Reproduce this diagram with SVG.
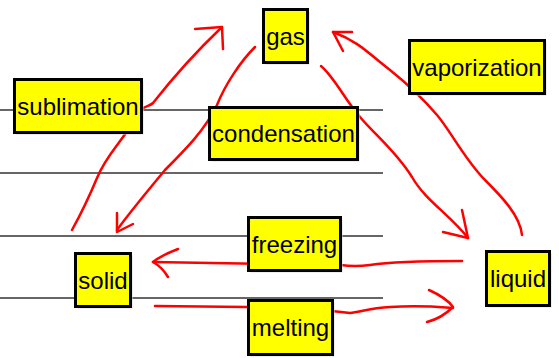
<svg xmlns="http://www.w3.org/2000/svg" width="559" height="358" viewBox="0 0 559 358">
<style>
.bg{fill:#ffffff}
.rule{stroke:#333333;stroke-width:1.5;fill:none}
.conn{stroke:#ff0000;stroke-width:2.5;fill:none;stroke-linecap:round;stroke-linejoin:round}
.shadow{fill:#dddddd}
.box{fill:#ffff00;stroke:#000000;stroke-width:3}
.lbl{font-family:"Liberation Sans",Arial,sans-serif;font-size:24px;fill:#000000;text-anchor:middle}
</style>
<rect class="bg" x="0" y="0" width="559" height="358"/>
<g id="rules">
<line class="rule" x1="0" y1="110" x2="383" y2="110"/>
<line class="rule" x1="0" y1="173" x2="383" y2="173"/>
<line class="rule" x1="0" y1="236" x2="383" y2="236"/>
<line class="rule" x1="0" y1="298" x2="383" y2="298"/>
</g>
<g id="connectors">
<path class="conn" d="M72,230 C82,212 92,190 97,178 C105,158 118,145 128,130 L140,110 C145,106 150,106 153,103 C175,75 200,48 222,27"/>
<path class="conn" d="M195,29 L222,27 L223,49"/>
<path class="conn" d="M255,47 C240,62 225,85 217,105 C205,130 185,150 165,170 C150,188 130,212 117,230"/>
<path class="conn" d="M133,224 L117,232 L117,213"/>
<path class="conn" d="M522,235 C520,215 500,195 485,180 C465,160 450,130 437,115 C420,95 405,82 390,70 C370,55 360,42 333,32"/>
<path class="conn" d="M352,32 L333,32 L343,51"/>
<path class="conn" d="M321,66 C335,78 345,100 360,117 C375,135 395,150 412,177 C425,200 450,215 468,238"/>
<path class="conn" d="M443,232 L468,238 L462,210"/>
<path class="conn" d="M462,261 C420,261 390,262 370,265 C355,267 348,266 340,265 L153,262"/>
<path class="conn" d="M178,249 C165,254 158,258 153,262 C160,266 165,272 168,277"/>
<path class="conn" d="M155,306 L247,307 C300,308 335,311 350,313 C360,312 370,308 390,307 C420,305 440,307 453,308"/>
<path class="conn" d="M429,290 C440,295 448,300 453,307 C445,315 435,320 427,322"/>
</g>
<g id="gas">
<rect class="shadow" x="265.5" y="11.5" width="44" height="53"/>
<rect class="box" x="263.5" y="9.5" width="44" height="53"/>
<text class="lbl" x="285.5" y="44.5">gas</text>
</g>
<g id="sublimation">
<rect class="shadow" x="16.5" y="81.5" width="127" height="53"/>
<rect class="box" x="14.5" y="79.5" width="127" height="53"/>
<text class="lbl" x="78" y="114.5">sublimation</text>
</g>
<g id="condensation">
<rect class="shadow" x="211.5" y="109.5" width="148" height="52"/>
<rect class="box" x="209.5" y="107.5" width="148" height="52"/>
<text class="lbl" x="283.5" y="142">condensation</text>
</g>
<g id="vaporization">
<rect class="shadow" x="411.5" y="42.5" width="135" height="53"/>
<rect class="box" x="409.5" y="40.5" width="135" height="53"/>
<text class="lbl" x="477" y="75.5">vaporization</text>
</g>
<g id="solid">
<rect class="shadow" x="77.5" y="255.5" width="55" height="53"/>
<rect class="box" x="75.5" y="253.5" width="55" height="53"/>
<text class="lbl" x="103" y="288.5">solid</text>
</g>
<g id="freezing">
<rect class="shadow" x="250.5" y="219.5" width="92" height="53"/>
<rect class="box" x="248.5" y="217.5" width="92" height="53"/>
<text class="lbl" x="294.5" y="252.5">freezing</text>
</g>
<g id="melting">
<rect class="shadow" x="250.5" y="302.5" width="84" height="54"/>
<rect class="box" x="248.5" y="300.5" width="84" height="54"/>
<text class="lbl" x="290.5" y="336">melting</text>
</g>
<g id="liquid">
<rect class="shadow" x="488.5" y="253.5" width="63" height="54"/>
<rect class="box" x="486.5" y="251.5" width="63" height="54"/>
<text class="lbl" x="518" y="287">liquid</text>
</g>
</svg>
